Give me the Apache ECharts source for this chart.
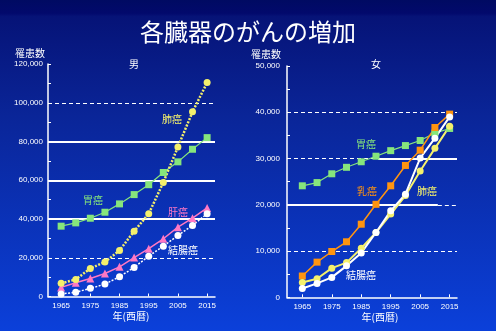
<!DOCTYPE html>
<html>
<head>
<meta charset="utf-8">
<script src="https://cdn.jsdelivr.net/npm/echarts@6/dist/echarts.min.js"></script>
<style>
html,body{margin:0;padding:0;}
#c{width:496px;height:331px;}
</style>
</head>
<body>
<div id="c"></div>
<script>
// ---- data ----
const years = [1965, 1970, 1975, 1980, 1985, 1990, 1995, 2000, 2005, 2010, 2015];
const xTickLabels = [1965, 1975, 1985, 1995, 2005, 2015];

// Male (男)
const maleLung       = [6800, 8800, 14500, 17800, 23800, 33700, 42700, 58900, 77200, 95300, 110400];
const maleStomach    = [36300, 38000, 40400, 43500, 47800, 52600, 57700, 64000, 69500, 76000, 82000];
const maleLiver      = [4700, 7100, 9300, 11900, 15300, 20100, 24700, 29800, 35800, 40400, 45700];
const maleColorectal = [1300, 2200, 4200, 6400, 10200, 15000, 20800, 26000, 31500, 36700, 42700];

// Female (女)
const femaleStomach    = [24100, 24800, 26700, 28100, 29300, 30500, 31700, 32800, 33900, 35500, 36500];
const femaleBreast     = [4600, 7600, 9900, 12000, 15800, 20100, 24100, 28500, 31800, 36700, 39600];
const femaleLung       = [3200, 4000, 6300, 7500, 10600, 14000, 18000, 22000, 27300, 32200, 37000];
const femaleColorectal = [1900, 3000, 4300, 6800, 9600, 14000, 18700, 22300, 30100, 34400, 39000];

// reference lines
const maleSolidLines = [40000, 60000, 80000];
const maleDashedLines = [20000, 100000];
const femaleDashedLines = [10000, 40000];

const pair = (xs, ys) => xs.map((x, i) => [x, ys[i]]);

const C_YELLOW = '#f4f06c';
const C_GREEN = '#86e57c';
const C_PINK = '#ff78c4';
const C_WHITE = '#ffffff';
const C_ORANGE = '#ff9410';
const JP = '"Noto Sans CJK JP", sans-serif';
const NUM = '"Liberation Sans", Arial, sans-serif';

function xAxisCfg(gridIndex, min, max) {
  return {
    type: 'value', gridIndex, min, max,
    axisLine: { show: true, lineStyle: { color: '#ffffff', width: 1.5 } },
    axisTick: { show: true, inside: true, length: 3, customValues: xTickLabels, lineStyle: { color: '#ffffff' } },
    axisLabel: { color: '#ffffff', fontFamily: NUM, fontSize: 8, margin: 5, customValues: xTickLabels, formatter: v => String(v) },
    splitLine: { show: false }
  };
}
function yAxisCfg(gridIndex, max, interval, margin) {
  return {
    type: 'value', gridIndex, min: 0, max, interval,
    axisLine: { show: true, lineStyle: { color: '#ffffff', width: 1.5 } },
    axisTick: { show: true, inside: true, length: 3, lineStyle: { color: '#ffffff' } },
    minorTick: { show: true, splitNumber: 2, length: 3, lineStyle: { color: '#ffffff' } },
    axisLabel: { color: '#ffffff', fontFamily: NUM, fontSize: 8, margin,
      formatter: v => v.toLocaleString('en-US') },
    splitLine: { show: false }
  };
}
function lineSeries(xi, yi, data, color, symbol, lineType, width, size) {
  return {
    type: 'line', xAxisIndex: xi, yAxisIndex: yi, data,
    symbol, symbolSize: size || 7, color,
    itemStyle: { color },
    lineStyle: { color, width, type: lineType },
    silent: true, animation: false, z: 5
  };
}
function refLines(xi, yi, solid, dashed, extra) {
  const d = [];
  solid.forEach(v => d.push({ yAxis: v, lineStyle: { type: 'solid', width: 2 } }));
  dashed.forEach(v => d.push({ yAxis: v, lineStyle: { type: [4, 3], width: 1.2 } }));
  return {
    type: 'line', xAxisIndex: xi, yAxisIndex: yi, data: [], silent: true, animation: false, z: 1,
    markLine: {
      symbol: 'none', silent: true, animation: false,
      label: { show: false },
      lineStyle: { color: '#ffffff' },
      data: d.concat(extra || [])
    }
  };
}

const chart = echarts.init(document.getElementById('c'), null, { renderer: 'canvas' });

const txt = (x, y, text, color, size, extra) => Object.assign({
  type: 'text', x, y,
  style: { text, fill: color, font: (size || 10) + 'px ' + JP, textAlign: 'center', textVerticalAlign: 'middle' }
}, extra || {});

chart.setOption({
  backgroundColor: {
    type: 'linear', x: 0, y: 0, x2: 0, y2: 1,
    colorStops: [
      { offset: 0, color: '#000a62' },
      { offset: 0.04, color: '#02096c' },
      { offset: 0.05, color: '#061377' },
      { offset: 0.35, color: '#0a2598' },
      { offset: 1, color: '#0b40da' }
    ]
  },
  title: {
    text: '各臓器のがんの増加', left: 'center', top: 15,
    textStyle: { color: '#ffffff', fontSize: 24, fontWeight: 'normal', fontFamily: JP }
  },
  grid: [
    { left: 48, top: 64, width: 167, bottom: 34.5 },
    { left: 287, top: 66, width: 170, bottom: 33.7 }
  ],
  xAxis: [
    xAxisCfg(0, 1960.5, 2017.7),
    xAxisCfg(1, 1959.8, 2017.5)
  ],
  yAxis: [
    yAxisCfg(0, 120000, 20000, 5),
    yAxisCfg(1, 50000, 10000, 7)
  ],
  series: [
    refLines(0, 0, maleSolidLines, maleDashedLines),
    refLines(1, 1, [], femaleDashedLines, [
      [{ coord: [1959.8, 30000], lineStyle: { type: [4, 3], width: 1.2 } }, { coord: [1990.7, 30000] }],
      [{ coord: [1990.7, 30000], lineStyle: { type: 'solid', width: 2 } }, { coord: [2017.5, 30000] }],
      [{ coord: [1959.8, 20000], lineStyle: { type: 'solid', width: 2 } }, { coord: [2011, 20000] }],
      [{ coord: [2011, 20000], lineStyle: { type: [4, 3], width: 1.2 } }, { coord: [2017.5, 20000] }]
    ]),
    lineSeries(0, 0, pair(years, maleStomach), C_GREEN, 'rect', 'solid', 1.2, 7),
    lineSeries(0, 0, pair(years, maleLiver), C_PINK, 'triangle', 'solid', 1.5, 8),
    lineSeries(0, 0, pair(years, maleColorectal), C_WHITE, 'circle', [2, 1.5], 1.5, 7),
    lineSeries(0, 0, pair(years, maleLung), C_YELLOW, 'circle', [2, 1.5], 2.5, 7),
    lineSeries(1, 1, pair(years, femaleStomach), C_GREEN, 'rect', 'solid', 1.2, 7),
    lineSeries(1, 1, pair(years, femaleBreast), C_ORANGE, 'rect', 'solid', 1.5, 7),
    lineSeries(1, 1, pair(years, femaleLung), C_YELLOW, 'circle', 'solid', 2, 7),
    lineSeries(1, 1, pair(years, femaleColorectal), C_WHITE, 'circle', 'solid', 2, 7)
  ],
  graphic: [
    txt(30, 53, '罹患数', '#ffffff', 10),
    txt(266, 54, '罹患数', '#ffffff', 10),
    txt(134, 64, '男', '#ffffff', 10),
    txt(376, 64, '女', '#ffffff', 10),
    txt(131, 316, '年(西暦)', '#ffffff', 10),
    txt(380, 317, '年(西暦)', '#ffffff', 10),
    txt(172, 119, '肺癌', C_YELLOW, 10),
    txt(93, 200, '胃癌', C_GREEN, 10),
    txt(178, 212, '肝癌', C_PINK, 10),
    txt(183, 250, '結腸癌', C_WHITE, 10),
    txt(366, 144, '胃癌', C_GREEN, 10),
    txt(367, 191, '乳癌', C_ORANGE, 10),
    txt(427, 191, '肺癌', C_YELLOW, 10),
    txt(361, 275, '結腸癌', C_WHITE, 10)
  ]
});
</script>
</body>
</html>
